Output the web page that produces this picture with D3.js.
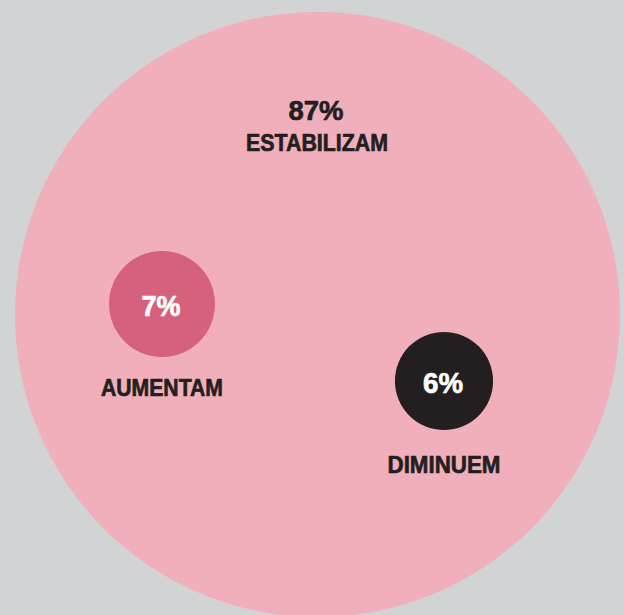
<!DOCTYPE html>
<html>
<head>
<meta charset="utf-8">
<script src="https://cdn.jsdelivr.net/npm/d3@7"></script>
<style>
  html, body { margin: 0; padding: 0; background: #d1d3d4; }
  svg { display: block; }
  text { font-family: "Liberation Sans", Arial, sans-serif; font-weight: bold; }
</style>
</head>
<body>
<div id="chart"></div>
<script>
// Chart data
const labels = ["ESTABILIZAM", "AUMENTAM", "DIMINUEM"]
const values = [87, 7, 6]
const colors = ["#f1afbb", "#d6617c", "#231f20"]

const width = 624
const height = 615

// where each bubble sits on the page (layout only)
const centers = [[317.5, 314.5], [162, 304], [444, 381]]
// the original uses a condensed face, so squeeze Liberation Sans to the same widths
const labelWidths = [142, 122, 113]
const valueWidths = [55, 39, 40]

const svg = d3.select("#chart")
    .append("svg")
        .attr("width", width)
        .attr("height", height)

svg.append("rect")
    .attr("width", width)
    .attr("height", height)
    .attr("fill", "#d1d3d4")

// big circle is the container, small ones are sized by area among themselves
const bigRadius = 302.5
const r = d3.scaleSqrt()
    .domain([0, 7])
    .range([0, 53])

const data = labels.map((label, i) => ({
    label: label, value: values[i], color: colors[i],
    x: centers[i][0], y: centers[i][1],
    lw: labelWidths[i], vw: valueWidths[i]
}))

svg.selectAll("circle.bubble")
    .data(data)
    .enter()
    .append("circle")
        .attr("class", "bubble")
        .attr("cx", d => d.x)
        .attr("cy", d => d.y)
        .attr("r", (d, i) => i === 0 ? bigRadius : r(d.value))
        .attr("fill", d => d.color)

// condensed bold in the original is heavier, so a thin stroke thickens the glyphs
function heavy(sel, color) {
    sel.attr("fill", color)
        .attr("stroke", color)
        .attr("stroke-width", 0.7)
        .attr("lengthAdjust", "spacingAndGlyphs")
        .attr("text-anchor", "middle")
}

// big one: value + label stacked near the top
const main = data[0]
svg.append("text")
    .attr("x", 316)
    .attr("y", 119.5)
    .attr("font-size", 28.5)
    .attr("textLength", main.vw)
    .call(heavy, "#231f20")
    .text(main.value + "%")

svg.append("text")
    .attr("x", 317)
    .attr("y", 151.3)
    .attr("font-size", 24.3)
    .attr("textLength", main.lw)
    .call(heavy, "#231f20")
    .text(main.label)

// small ones: value inside, label underneath
const small = data.slice(1)

svg.selectAll("text.value")
    .data(small)
    .enter()
    .append("text")
        .attr("class", "value")
        .attr("x", d => d.x - 1)
        .attr("y", d => d.y + 12.3)
        .attr("font-size", 29.5)
        .attr("textLength", d => d.vw)
        .call(heavy, "#ffffff")
        .text(d => d.value + "%")

svg.selectAll("text.label")
    .data(small)
    .enter()
    .append("text")
        .attr("class", "label")
        .attr("x", d => d.x)
        .attr("y", d => d.y + 91.5)
        .attr("font-size", 24.5)
        .attr("textLength", d => d.lw)
        .call(heavy, "#231f20")
        .text(d => d.label)
</script>
</body>
</html>
